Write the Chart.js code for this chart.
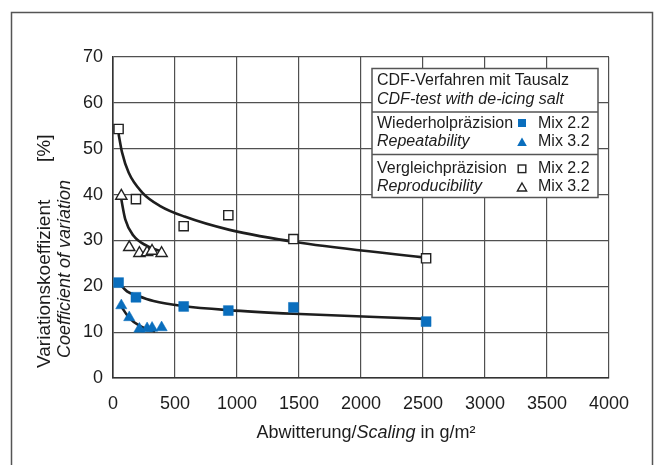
<!DOCTYPE html>
<html>
<head>
<meta charset="utf-8">
<script src="https://cdn.jsdelivr.net/npm/chart.js@4/dist/chart.umd.min.js"></script>
<style>
  html, body { margin: 0; padding: 0; background: #ffffff; }
  #wrap { width: 658px; height: 465px; position: relative; }
</style>
</head>
<body>
<div id="wrap"><canvas id="chart" width="658" height="465"></canvas></div>
<script>
// Scaling (g/m²) of the test series
const mix22Scaling = [45, 185, 570, 930, 1455, 2525];
const mix32Scaling = [67, 131, 213, 275, 315, 392];

// Coefficient of variation [%]
const repeat22 = [20.8, 17.6, 15.6, 14.7, 15.4, 12.3];
const repeat32 = [15.8, 13.2, 10.7, 10.8, 10.9, 11.0];
const repro22 = [54.3, 39.0, 33.1, 35.5, 30.3, 26.1];
const repro32 = [39.7, 28.5, 27.2, 27.4, 27.7, 27.2];

// Trend curves through the series
const trendRepro22X = [45, 73, 126, 234, 381, 577, 940, 1510, 2503];
const trendRepro22Y = [53.2, 49.2, 44.8, 40.5, 37.5, 35.2, 32.3, 29.5, 26.3];
const trendRepeat22X = [45, 113, 193, 327, 564, 929, 1456, 2525];
const trendRepeat22Y = [20.8, 18.9, 18.0, 16.8, 15.7, 14.8, 14.0, 12.9];
const trendRepro32X = [64, 99, 166, 274, 395];
const trendRepro32Y = [39.4, 34.6, 31.0, 28.8, 27.5];
const trendRepeat32X = [64, 134, 220, 301, 341];
const trendRepeat32Y = [15.7, 13.0, 11.3, 10.4, 10.2];

// Axis ticks
const xTicks = [0, 500, 1000, 1500, 2000, 2500, 3000, 3500, 4000];
const yTicks = [0, 10, 20, 30, 40, 50, 60, 70];

const BLUE = '#0a6ebd';
const INK = '#1c1c1c';
const FONT = '"Liberation Sans", Arial, Helvetica, sans-serif';

const pts = (xs, ys) => xs.map((x, i) => ({ x, y: ys[i] }));

function markerSet(label, xs, ys, style, filled, radius) {
  return {
    type: 'scatter',
    label,
    data: pts(xs, ys),
    pointStyle: style,
    pointRadius: radius,
    pointHoverRadius: radius,
    pointBackgroundColor: filled ? BLUE : '#ffffff',
    pointBorderColor: filled ? BLUE : '#222222',
    pointBorderWidth: filled ? 0.5 : 1.4,
    showLine: false,
    order: 1
  };
}

function trendSet(label, xs, ys) {
  return {
    type: 'scatter',
    label,
    data: pts(xs, ys),
    showLine: true,
    borderColor: '#1e1e1e',
    borderWidth: 2.6,
    pointRadius: 0,
    pointHoverRadius: 0,
    cubicInterpolationMode: 'monotone',
    fill: false,
    order: 2
  };
}

// Outer frame, axis titles and the boxed key
const decorations = {
  id: 'decorations',
  afterDraw(chart) {
    const ctx = chart.ctx;
    ctx.save();

    // frame around the figure
    ctx.strokeStyle = '#555555';
    ctx.lineWidth = 1.5;
    ctx.beginPath();
    ctx.moveTo(11.5, 470);
    ctx.lineTo(11.5, 12.5);
    ctx.lineTo(652.5, 12.5);
    ctx.lineTo(652.5, 470);
    ctx.stroke();

    ctx.fillStyle = INK;

    // y-axis title, two lines
    ctx.save();
    ctx.translate(45, 368);
    ctx.rotate(-Math.PI / 2);
    ctx.textAlign = 'left';
    ctx.textBaseline = 'middle';
    ctx.font = '19px ' + FONT;
    ctx.fillText('Variationskoeffizient', 0, 0);
    ctx.fillText('[%]', 206, 0);
    ctx.restore();

    ctx.save();
    ctx.translate(65, 358);
    ctx.rotate(-Math.PI / 2);
    ctx.textAlign = 'left';
    ctx.textBaseline = 'middle';
    ctx.font = 'italic 18px ' + FONT;
    ctx.fillText('Coefficient of variation', 0, 0);
    ctx.restore();

    // x-axis title with italic English part
    const parts = [
      ['Abwitterung/', '18px ' + FONT],
      ['Scaling', 'italic 18px ' + FONT],
      [' in g/m\u00B2', '18px ' + FONT]
    ];
    let total = 0;
    parts.forEach(([t, f]) => { ctx.font = f; total += ctx.measureText(t).width; });
    let x = 366 - total / 2;
    ctx.textAlign = 'left';
    ctx.textBaseline = 'middle';
    parts.forEach(([t, f]) => {
      ctx.font = f;
      ctx.fillText(t, x, 433);
      x += ctx.measureText(t).width;
    });

    // key box
    const bx = 372, by = 68.5, bw = 226, bh = 129;
    ctx.fillStyle = '#ffffff';
    ctx.fillRect(bx, by, bw, bh);
    ctx.strokeStyle = '#555555';
    ctx.lineWidth = 1.5;
    ctx.strokeRect(bx, by, bw, bh);
    ctx.beginPath();
    ctx.moveTo(bx, 112); ctx.lineTo(bx + bw, 112);
    ctx.moveTo(bx, 154.5); ctx.lineTo(bx + bw, 154.5);
    ctx.stroke();

    ctx.fillStyle = INK;
    ctx.textBaseline = 'middle';
    ctx.textAlign = 'left';
    const tx = 377;
    ctx.font = '16px ' + FONT;
    ctx.fillText('CDF-Verfahren mit Tausalz', tx, 81);
    ctx.font = 'italic 16px ' + FONT;
    ctx.fillText('CDF-test with de-icing salt', tx, 100);
    ctx.font = '16px ' + FONT;
    ctx.fillText('Wiederholpräzision', tx, 123.5);
    ctx.font = 'italic 16px ' + FONT;
    ctx.fillText('Repeatability', tx, 142);
    ctx.font = '16px ' + FONT;
    ctx.fillText('Vergleichpräzision', tx, 169);
    ctx.font = 'italic 16px ' + FONT;
    ctx.fillText('Reproducibility', tx, 187);

    ctx.font = '16px ' + FONT;
    ctx.fillText('Mix 2.2', 538, 123.5);
    ctx.fillText('Mix 3.2', 538, 142);
    ctx.fillText('Mix 2.2', 538, 169);
    ctx.fillText('Mix 3.2', 538, 187);

    const mx = 522;
    // filled square
    ctx.fillStyle = BLUE;
    ctx.fillRect(mx - 4, 119, 8, 8);
    // filled triangle
    ctx.beginPath();
    ctx.moveTo(mx, 137.5); ctx.lineTo(mx + 4.8, 146); ctx.lineTo(mx - 4.8, 146); ctx.closePath();
    ctx.fill();
    // open square
    ctx.strokeStyle = '#222222';
    ctx.lineWidth = 1.4;
    ctx.strokeRect(mx - 3.8, 165, 7.6, 7.6);
    // open triangle
    ctx.beginPath();
    ctx.moveTo(mx, 183); ctx.lineTo(mx + 4.6, 191); ctx.lineTo(mx - 4.6, 191); ctx.closePath();
    ctx.stroke();

    ctx.restore();
  }
};

new Chart(document.getElementById('chart'), {
  type: 'scatter',
  data: {
    datasets: [
      markerSet('Wiederholpräzision Mix 2.2', mix22Scaling, repeat22, 'rect', true, 7),
      markerSet('Wiederholpräzision Mix 3.2', mix32Scaling, repeat32, 'triangle', true, 6.5),
      markerSet('Vergleichpräzision Mix 2.2', mix22Scaling, repro22, 'rect', false, 6.5),
      markerSet('Vergleichpräzision Mix 3.2', mix32Scaling, repro32, 'triangle', false, 6.5),
      trendSet('Trend Vergleich 2.2', trendRepro22X, trendRepro22Y),
      trendSet('Trend Wiederhol 2.2', trendRepeat22X, trendRepeat22Y),
      trendSet('Trend Vergleich 3.2', trendRepro32X, trendRepro32Y),
      trendSet('Trend Wiederhol 3.2', trendRepeat32X, trendRepeat32Y)
    ]
  },
  options: {
    responsive: false,
    animation: false,
    devicePixelRatio: 1,
    layout: { padding: { left: 0, right: 49, top: 57, bottom: 0 } },
    plugins: {
      legend: { display: false },
      tooltip: { enabled: false },
      title: { display: false }
    },
    scales: {
      x: {
        type: 'linear',
        min: 0,
        max: 4000,
        afterFit(scale) { scale.height = 87; },
        afterBuildTicks(scale) { scale.ticks = xTicks.map(v => ({ value: v })); },
        ticks: {
          padding: 15,
          color: INK,
          font: { family: FONT, size: 18 },
          maxRotation: 0,
          autoSkip: false,
          callback: v => String(v)
        },
        grid: { color: '#505050', lineWidth: 1.2, drawTicks: false },
        border: { color: '#333333', width: 1.6 }
      },
      y: {
        type: 'linear',
        min: 0,
        max: 70,
        afterFit(scale) { scale.width = 113; },
        afterBuildTicks(scale) { scale.ticks = yTicks.map(v => ({ value: v })); },
        ticks: {
          padding: 10,
          color: INK,
          font: { family: FONT, size: 18 },
          callback: v => String(v)
        },
        grid: { color: '#505050', lineWidth: 1.2, drawTicks: false },
        border: { color: '#333333', width: 1.6 }
      }
    }
  },
  plugins: [decorations]
});
</script>
</body>
</html>
